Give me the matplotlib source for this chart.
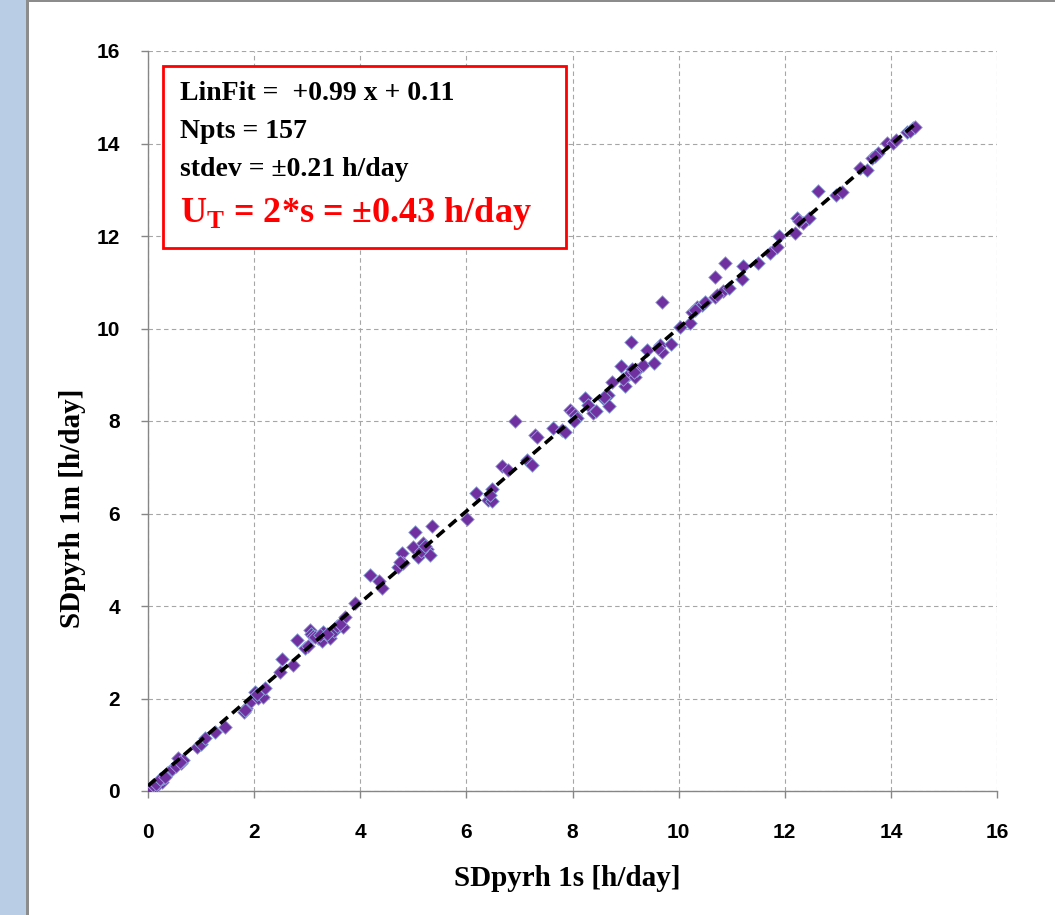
#scatter of daily sunshine duration from 1 s vs 1 min pyrheliometer data, with the linear fit
import matplotlib
matplotlib.use('Agg')
import matplotlib.pyplot as plt
from matplotlib.patches import Rectangle
import numpy as np

#sunshine duration [h/day] from 1 s data (x) and 1 min data (y)
sd_1s = [0.00, 0.05, 0.13, 0.20, 0.26, 0.29, 0.35, 0.40, 0.48, 0.57, 0.63, 0.66,
         0.92, 1.00, 1.07, 1.26, 1.45, 1.80, 1.85, 1.95, 2.02, 2.08, 2.17, 2.21,
         2.49, 2.52, 2.73, 2.80, 2.95, 3.02, 3.05, 3.08, 3.11, 3.20, 3.28, 3.30,
         3.43, 3.50, 3.56, 3.68, 3.71, 3.90, 4.18, 4.35, 4.41, 4.71, 4.79, 4.81,
         4.99, 5.03, 5.09, 5.18, 5.26, 5.31, 5.35, 6.01, 6.18, 6.41, 6.48, 6.48,
         6.67, 6.78, 6.92, 7.14, 7.24, 7.29, 7.33, 7.63, 7.80, 7.86, 7.95, 7.99,
         8.05, 8.09, 8.24, 8.30, 8.39, 8.45, 8.58, 8.67, 8.69, 8.74, 8.91, 8.99,
         9.05, 9.10, 9.12, 9.18, 9.21, 9.33, 9.40, 9.54, 9.65, 9.69, 9.69, 9.86,
         10.03, 10.21, 10.25, 10.35, 10.44, 10.50, 10.69, 10.69, 10.84, 10.87, 10.95, 11.19,
         11.21, 11.50, 11.72, 11.85, 11.89, 12.19, 12.23, 12.34, 12.46, 12.63, 12.97, 13.08,
         13.42, 13.55, 13.64, 13.76, 13.93, 14.04, 14.30, 14.42,
         0.10, 0.15, 0.22, 0.32, 0.45, 0.52, 0.60, 1.82, 2.05, 3.15, 3.25, 3.38,
         3.62, 4.75, 5.15, 5.22, 6.45, 8.02, 8.60, 8.95, 9.15, 9.62, 10.30, 10.72,
         12.26, 13.70, 14.10, 14.36, 14.45]
sd_1m = [0.00, 0.03, 0.09, 0.18, 0.20, 0.29, 0.38, 0.42, 0.49, 0.71, 0.60, 0.66,
         0.96, 1.02, 1.14, 1.28, 1.39, 1.71, 1.79, 1.95, 2.15, 2.02, 2.04, 2.22,
         2.58, 2.85, 2.72, 3.26, 3.10, 3.14, 3.48, 3.40, 3.35, 3.30, 3.25, 3.44,
         3.30, 3.45, 3.57, 3.55, 3.77, 4.07, 4.67, 4.55, 4.38, 4.85, 5.14, 4.92,
         5.28, 5.59, 5.07, 5.36, 5.24, 5.10, 5.73, 5.88, 6.45, 6.29, 6.28, 6.53,
         7.03, 6.94, 7.99, 7.16, 7.05, 7.70, 7.65, 7.85, 7.80, 7.77, 8.24, 8.20,
         8.13, 8.06, 8.50, 8.35, 8.17, 8.22, 8.50, 8.56, 8.32, 8.84, 9.19, 8.76,
         9.00, 9.70, 9.12, 8.95, 9.10, 9.21, 9.54, 9.26, 9.64, 10.57, 9.49, 9.66,
         10.03, 10.12, 10.36, 10.47, 10.51, 10.58, 10.69, 11.11, 10.80, 11.42, 10.88, 11.07,
         11.35, 11.42, 11.64, 11.76, 12.00, 12.07, 12.39, 12.29, 12.39, 12.98, 12.89, 12.96,
         13.46, 13.43, 13.68, 13.79, 14.01, 14.02, 14.25, 14.33,
         0.12, 0.15, 0.25, 0.30, 0.47, 0.55, 0.62, 1.76, 2.10, 3.32, 3.38, 3.40,
         3.62, 4.95, 5.20, 5.30, 6.40, 8.00, 8.52, 8.90, 9.05, 9.58, 10.40, 10.72,
         12.32, 13.72, 14.08, 14.28, 14.36]

#fit results shown in the box
slope = 0.99
intercept = 0.11
fit_range = [0.0, 14.45]
box_lines = ['LinFit =  +0.99 x + 0.11', 'Npts = 157', 'stdev = \u00b10.21 h/day']
box_red = 'U$_\\mathregular{T}$ = 2*s = \u00b10.43 h/day'

serif = ['Liberation Serif', 'DejaVu Serif']
narrow = ['Liberation Sans Narrow', 'Liberation Sans', 'DejaVu Sans']

fig = plt.figure(figsize=(10.55, 9.15), dpi=100)

#light blue strip and grey frame lines on the left and top
fig.patches.append(Rectangle((0, 0), 26/1055, 1, transform=fig.transFigure,
                             facecolor='#B9CDE5', edgecolor='none', zorder=0))
fig.patches.append(Rectangle((26/1055, 0), 3/1055, 1, transform=fig.transFigure,
                             facecolor='#8C8C8C', edgecolor='none', zorder=0))
fig.patches.append(Rectangle((26/1055, 1 - 2/915), 1, 2/915, transform=fig.transFigure,
                             facecolor='#8C8C8C', edgecolor='none', zorder=0))

ax = fig.add_axes([148/1055, 1 - 791/915, (997 - 148)/1055, (791 - 51)/915])

ax.scatter(sd_1s, sd_1m, marker='D', s=48, color='#7030A0', edgecolors='#8EA9DB',
           linewidths=0.6, zorder=3)

xfit = np.array(fit_range)
ax.plot(xfit, slope * xfit + intercept, color='black', lw=2.6,
        linestyle=(0, (2.8, 1.6)), zorder=4)

ax.set_xlim(0, 16)
ax.set_ylim(0, 16)
ax.set_xticks(range(0, 17, 2))
ax.set_yticks(range(0, 17, 2))
ax.grid(True, color='#A6A6A6', linestyle=(0, (4, 3)), linewidth=0.8)
ax.set_axisbelow(True)
for side in ['top', 'right']:
    ax.spines[side].set_visible(False)
for side in ['left', 'bottom']:
    ax.spines[side].set_color('#868686')
    ax.spines[side].set_linewidth(1.0)
ax.tick_params(axis='both', direction='out', length=5, width=1, color='#868686')
ax.tick_params(axis='x', pad=18)
ax.tick_params(axis='y', pad=15)
for lab in ax.get_xticklabels() + ax.get_yticklabels():
    lab.set_family(narrow)
    lab.set_fontweight('bold')
    lab.set_fontsize(15)

fig.text(567/1055, 1 - 879/915, 'SDpyrh 1s [h/day]', family=serif, fontweight='bold',
         fontsize=21, ha='center', va='center')
fig.text(73/1055, 1 - 508/915, 'SDpyrh 1m [h/day]', family=serif, fontweight='bold',
         fontsize=21, ha='center', va='center', rotation=90)

#red framed box with the fit statistics
fig.patches.append(Rectangle((163/1055, 1 - 248/915), (566 - 163)/1055, (248 - 66)/915,
                             transform=fig.transFigure, facecolor='white',
                             edgecolor='#FF0000', linewidth=2.0, zorder=5))
for i, line in enumerate(box_lines):
    fig.text(180/1055, 1 - (93 + 38.5*i)/915, line, family=serif, fontweight='bold',
             fontsize=20, ha='left', va='center', zorder=6)
fig.text(180/1055, 1 - 213/915, box_red, family=serif, fontweight='bold', color='#FF0000',
         fontsize=26, ha='left', va='center', zorder=6)

fig.savefig('out.png', dpi=100)
